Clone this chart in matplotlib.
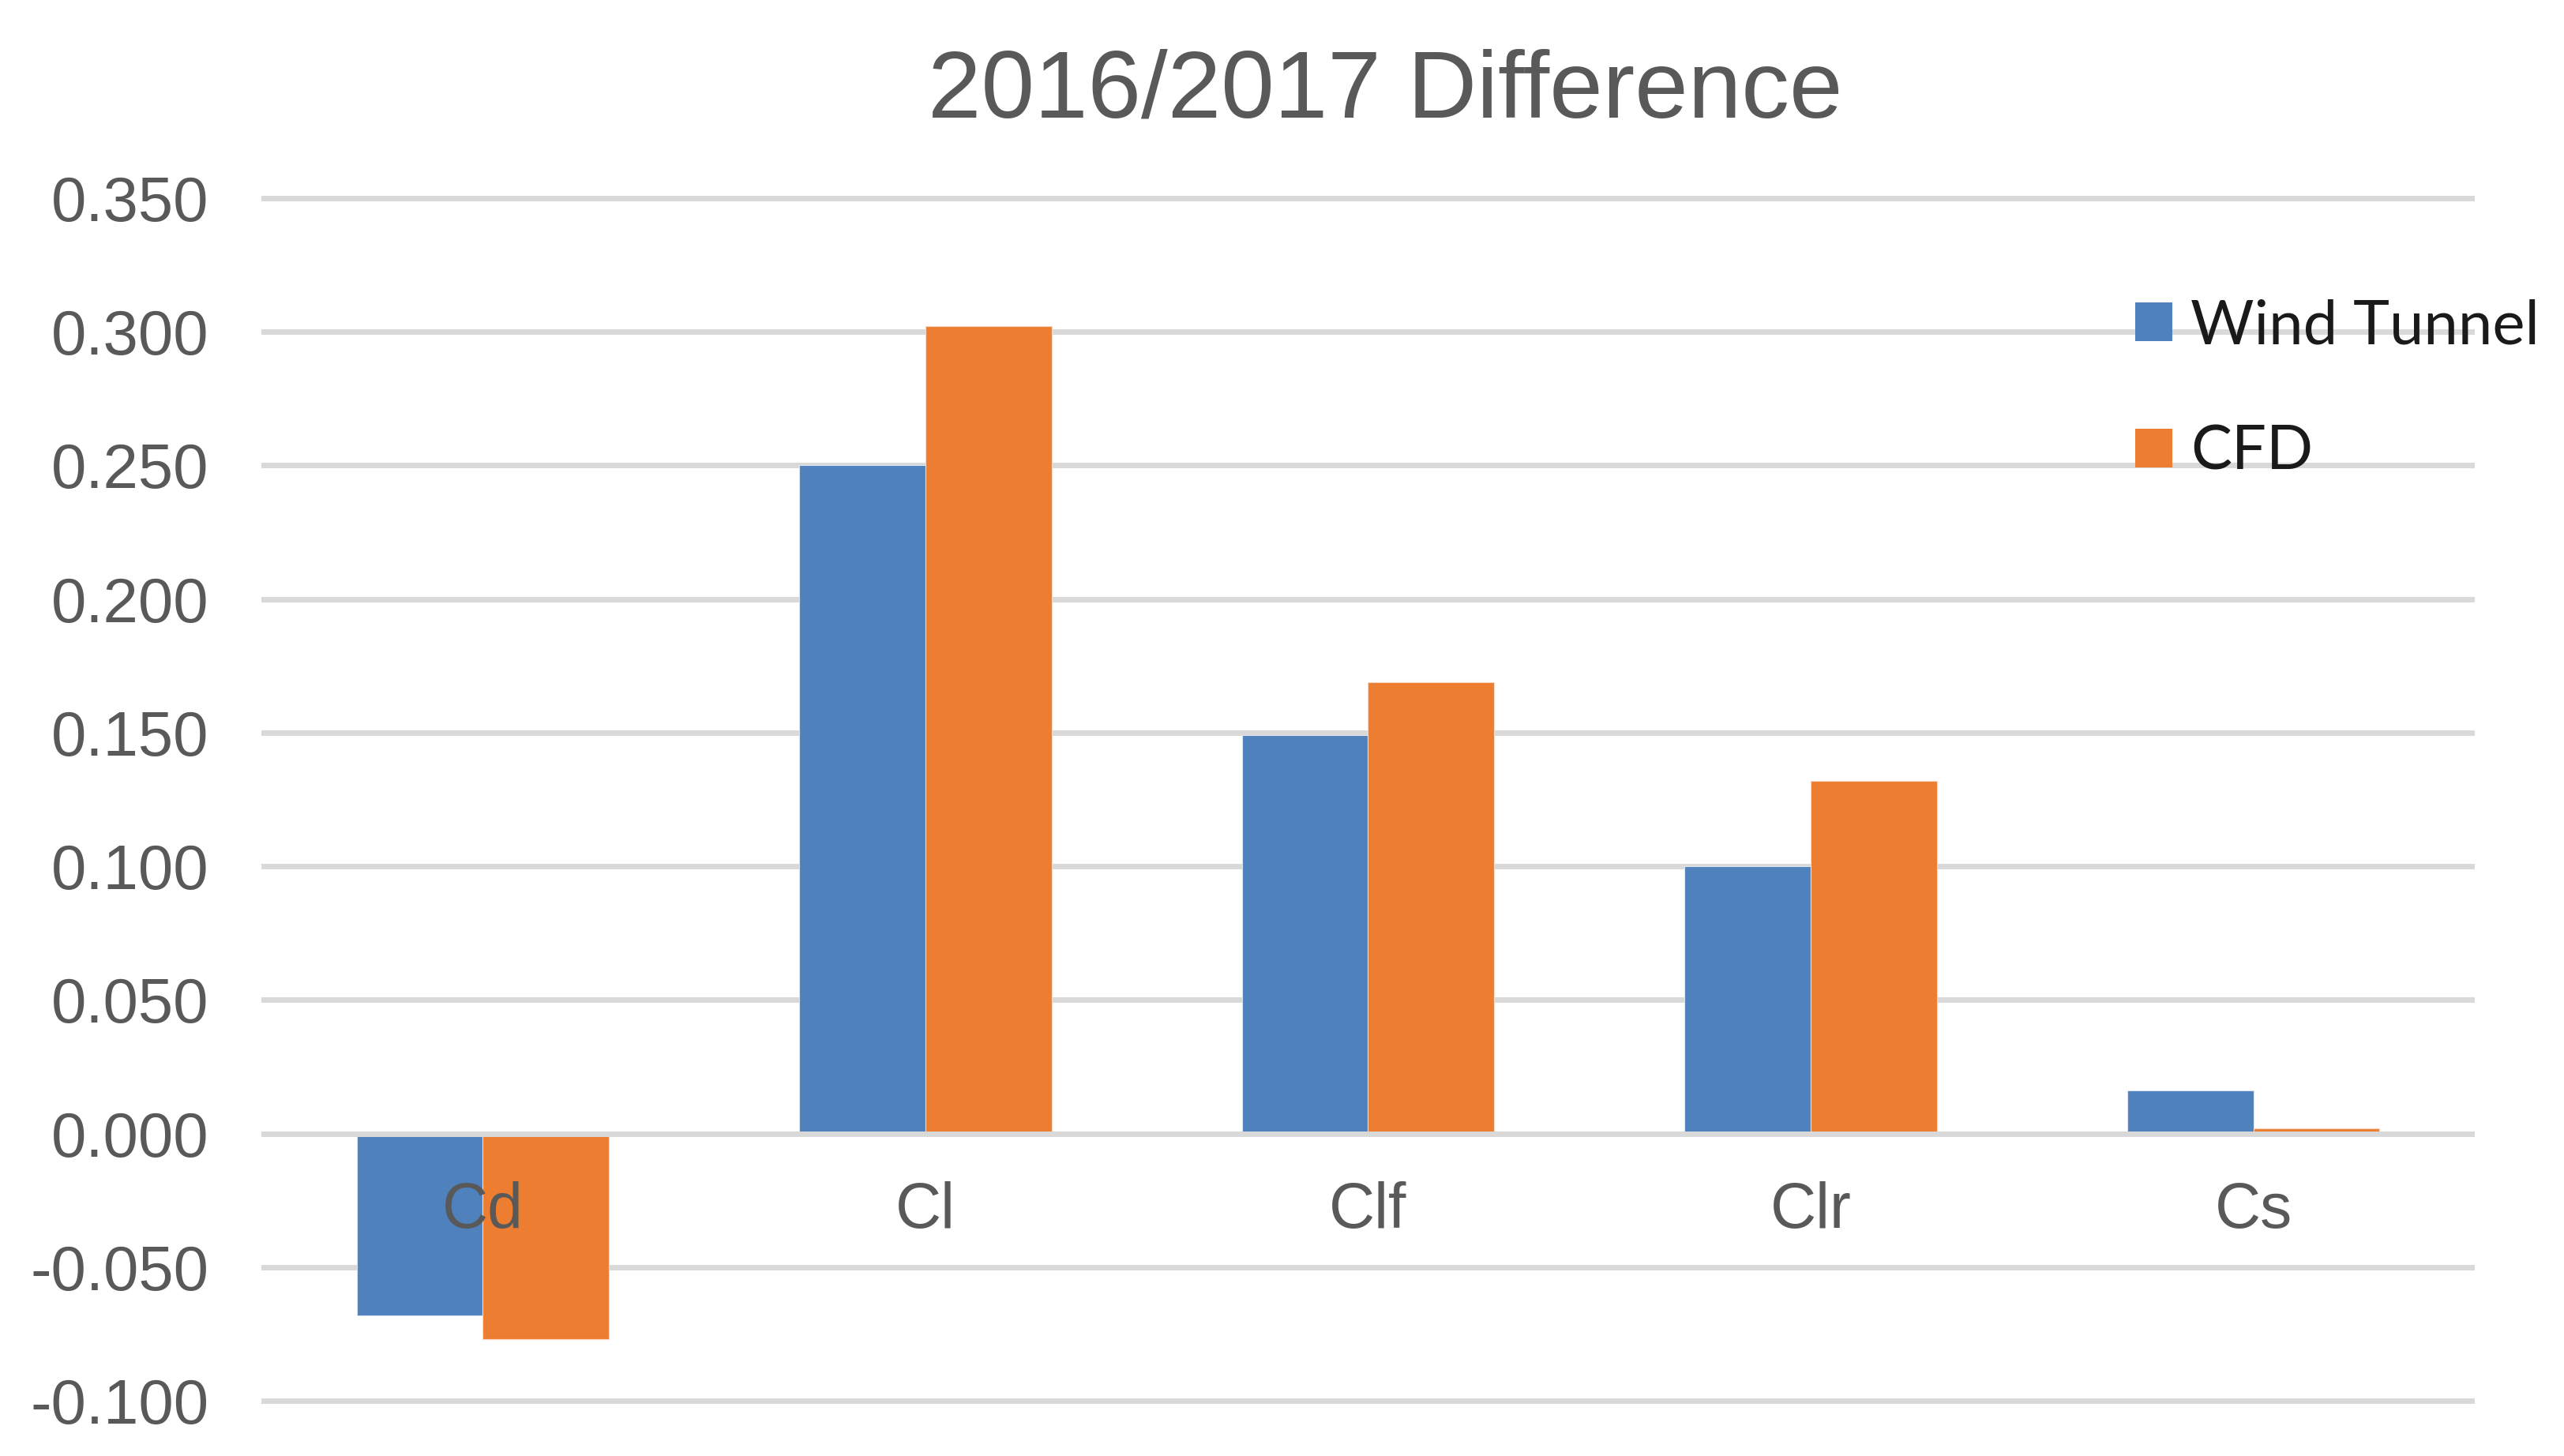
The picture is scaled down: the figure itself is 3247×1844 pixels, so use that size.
import numpy as np
import matplotlib
matplotlib.use("Agg")
import matplotlib.pyplot as plt
from matplotlib.patches import Patch
from matplotlib.transforms import offset_copy

categories = ["Cd", "Cl", "Clf", "Clr", "Cs"]
wind_tunnel = [-0.068, 0.250, 0.149, 0.100, 0.016]
cfd = [-0.077, 0.302, 0.169, 0.132, 0.002]
series_names = ["Wind Tunnel", "CFD"]
yticks = [-0.100, -0.050, 0.000, 0.050, 0.100, 0.150, 0.200, 0.250, 0.300, 0.350]

blue = "#4F81BD"
orange = "#ED7D31"
grid_col = "#D9D9D9"
text_col = "#595959"

W, H, DPI = 3248, 1844, 200
fig = plt.figure(figsize=(W / DPI, H / DPI), dpi=DPI)
fig.patch.set_facecolor("white")

ax = fig.add_axes([331 / W, 0.03427, (3134 - 331) / W, 0.86757 - 0.03427])

x = np.arange(len(categories))
bw = 0.285
ax.bar(x - bw / 2, wind_tunnel, bw, color=blue, edgecolor="#DCE6F2", linewidth=0.4, zorder=2)
ax.bar(x + bw / 2, cfd, bw, color=orange, edgecolor="#FAD9C4", linewidth=0.4, zorder=2)

ax.set_xlim(-0.5, len(categories) - 0.5)
ax.set_ylim(-0.102, 0.352)

# gridlines behind the bars, zero line on top
for v in yticks:
    if v == 0:
        continue
    ax.axhline(v, color=grid_col, linewidth=2.5, zorder=1)
ax.axhline(0, color=grid_col, linewidth=2.5, zorder=3)

ax.set_yticks(yticks)
ax.set_yticklabels([f"{v:.3f}" for v in yticks], fontsize=28.7,
                   color=text_col, family="Liberation Sans")
ax.tick_params(axis="y", length=0, pad=24)
ax.set_xticks([])
for s in ax.spines.values():
    s.set_visible(False)

# category labels sit just under the zero line
lab_tr = offset_copy(ax.transData, fig=fig, x=0, y=-35.3, units="points")
for i, c in enumerate(categories):
    ax.text(i, 0, c, transform=lab_tr, ha="center", va="center", fontsize=29,
            color=text_col, family="Liberation Sans", zorder=5)

fig.text(1754 / W, 1 - 118 / H, "2016/2017 Difference", ha="center", va="center",
         fontsize=43.7, color=text_col, family="Liberation Sans")

handles = [Patch(facecolor=blue, edgecolor="none"), Patch(facecolor=orange, edgecolor="none")]
leg = fig.legend(handles, series_names, loc="upper left",
                 bbox_to_anchor=(2704 / W, 1 - 378 / H), frameon=False,
                 borderpad=0, borderaxespad=0, handlelength=0.6, handleheight=0.6,
                 handletextpad=0.3, labelspacing=1.14,
                 prop={"family": "Lato", "size": 28})
for t in leg.get_texts():
    t.set_color("#1A1A1A")

fig.savefig("out.png", dpi=DPI, facecolor="white")
